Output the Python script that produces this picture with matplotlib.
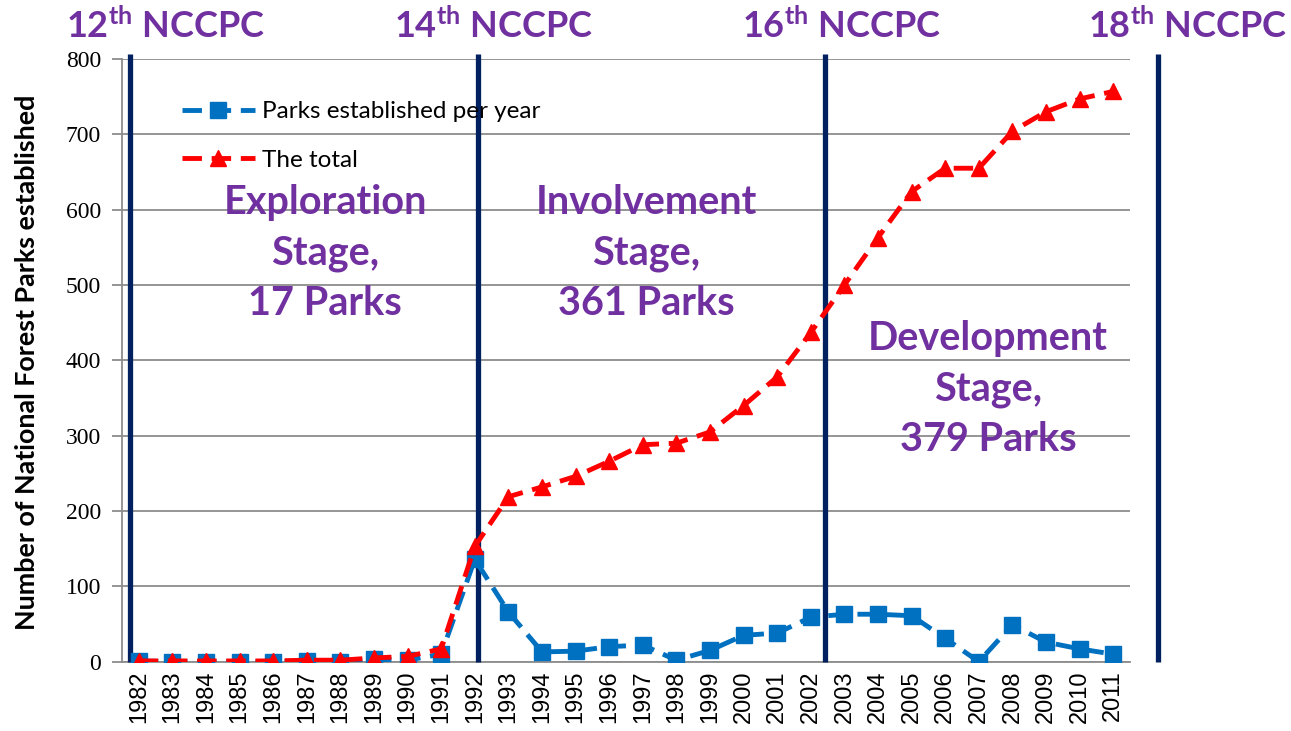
import matplotlib
matplotlib.use("Agg")
import matplotlib.pyplot as plt

plt.rcParams['mathtext.fontset'] = 'custom'
plt.rcParams['mathtext.bf'] = 'Lato:bold'
plt.rcParams['mathtext.rm'] = 'Lato'

years = [str(y) for y in range(1982, 2012)]
per_year = [1, 0, 0, 0, 0, 1, 0, 3, 2, 10,
            136, 66, 13, 14, 20, 22, 2, 15, 35, 38,
            59, 63, 63, 61, 31, 0, 49, 26, 17, 10]
total = [1, 1, 1, 1, 1, 2, 2, 5, 7, 17,
         153, 219, 232, 246, 266, 288, 290, 305, 340, 378,
         437, 500, 563, 624, 655, 655, 704, 730, 747, 757]
yticks = [0, 100, 200, 300, 400, 500, 600, 700, 800]

congress = ["12", "14", "16", "18"]
stages = ["Exploration\nStage,\n17 Parks",
          "Involvement\nStage,\n361 Parks",
          "Development\nStage,\n379 Parks"]

PURPLE = "#7030A0"
NAVY = "#002060"
BLUE = "#0070C0"
RED = "#FF0000"
GRID = "#8c8c8c"

W, H = 1291, 731
fig = plt.figure(figsize=(W / 100, H / 100), dpi=100)
ax = fig.add_axes([122 / W, 1 - 661.7 / H, 1008 / W, 602.7 / H])

x = list(range(len(years)))
ax.plot(x, per_year, color=BLUE, lw=3.5, dashes=(4, 2), marker="s", ms=11,
        label="Parks established per year", zorder=4)
ax.plot(x, total, color=RED, lw=3.5, dashes=(4, 2), marker="^", ms=12,
        label="The total", zorder=5)

ax.set_xlim(-0.5, 29.5)
ax.set_ylim(0, 800)
ax.set_yticks(yticks)
ax.set_xticks(x)
ax.set_xticklabels(years, rotation=90, fontsize=17, family="Liberation Sans")
for t in ax.get_yticklabels():
    t.set_family("Liberation Serif")
    t.set_fontsize(17)
ax.tick_params(axis="x", length=0, pad=6)
ax.tick_params(axis="y", length=7, color=GRID, width=1.3, pad=8)
ax.grid(axis="y", color=GRID, lw=1.3)
ax.set_axisbelow(True)
for s in ["top", "right"]:
    ax.spines[s].set_visible(False)
for s in ["left", "bottom"]:
    ax.spines[s].set_color(GRID)
    ax.spines[s].set_linewidth(1.3)

# congress separators
for xv in [-0.26, 10.1, 20.42, 30.33]:
    ax.vlines(xv, 0, 806, color=NAVY, lw=3.8, clip_on=False, zorder=3)

fig.text(27 / W, 1 - 362 / H, "Number of National Forest Parks established",
         rotation=90, fontsize=19.4, fontweight="bold", family="Lato",
         ha="center", va="center")

leg = ax.legend(loc="upper left", bbox_to_anchor=(182 / W, 1 - 101 / H),
                bbox_transform=fig.transFigure, frameon=False,
                prop={"family": "Lato", "size": 17.5}, handlelength=3.0,
                handletextpad=0.3, labelspacing=1.15, borderpad=0,
                borderaxespad=0)

for num, cx in zip(congress, [166, 494, 842, 1188]):
    fig.text(cx / W, 1 - 26 / H, r"$\mathbf{%s^{th}}$ NCCPC" % num,
             color=PURPLE, fontsize=26, fontweight="bold", family="Lato",
             ha="center", va="center")

for txt, (cx, cy) in zip(stages, [(325, 253), (646, 253), (988, 389)]):
    fig.text(cx / W, 1 - cy / H, txt, color=PURPLE, fontsize=28.5,
             fontweight="bold", family="Lato", ha="center", va="center",
             linespacing=1.43)

fig.savefig("out.png", dpi=100)
